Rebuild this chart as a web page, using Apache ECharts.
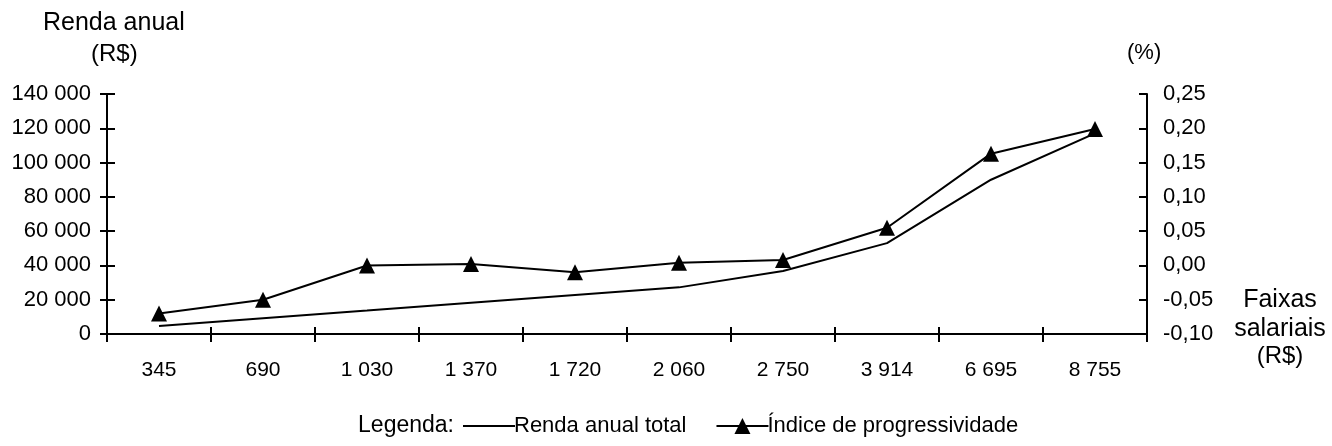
<!DOCTYPE html>
<html>
<head>
<meta charset="utf-8">
<script src="https://cdn.jsdelivr.net/npm/echarts@6/dist/echarts.min.js"></script>
<style>
  html, body { margin: 0; padding: 0; background: #fff; }
  #chart { width: 1332px; height: 446px; }
</style>
</head>
<body>
<div id="chart"></div>
<script>
// faixas salariais (R$)
const categories = ['345', '690', '1 030', '1 370', '1 720', '2 060', '2 750', '3 914', '6 695', '8 755'];
// renda anual total (R$) - eixo esquerdo
const rendaAnual = [4700, 9200, 13700, 18300, 22700, 27200, 36800, 53000, 90000, 117000];
// índice de progressividade (%) - eixo direito
const indice = [-0.07, -0.05, 0.0, 0.002, -0.01, 0.004, 0.008, 0.055, 0.163, 0.199];

const FONT = '"Liberation Sans", Arial, sans-serif';
const BLACK = '#000';

const fmtMil = v => String(v).replace(/\B(?=(\d{3})+(?!\d))/g, ' ');
const fmtPct = v => v.toFixed(2).replace('.', ',');

const chart = echarts.init(document.getElementById('chart'));

const option = {
    animation: false,
    backgroundColor: '#fff',
    grid: { left: 107, right: 185, top: 94, bottom: 112 },
    xAxis: [
        {
            type: 'category', data: categories, boundaryGap: true,
            axisLine: { onZero: false, lineStyle: { color: BLACK, width: 2 } },
            axisTick: { show: true, inside: false, length: 8, lineStyle: { color: BLACK, width: 2 } },
            axisLabel: { color: BLACK, fontSize: 21, fontFamily: FONT, margin: 26, interval: 0 }
        },
        {
            // só para os tiques que cruzam o eixo
            type: 'category', data: categories, position: 'bottom', boundaryGap: true,
            axisLine: { show: false, onZero: false },
            axisTick: { show: true, inside: true, length: 7, lineStyle: { color: BLACK, width: 2 } },
            axisLabel: { show: false }
        }
    ],
    yAxis: [
        {
            type: 'value', min: 0, max: 140000, interval: 20000, position: 'left',
            axisLine: { show: true, lineStyle: { color: BLACK, width: 2 } },
            axisTick: { show: true, inside: false, length: 7, lineStyle: { color: BLACK, width: 2 } },
            axisLabel: { color: BLACK, fontSize: 22, fontFamily: FONT, margin: 16, formatter: fmtMil },
            splitLine: { show: false }
        },
        {
            type: 'value', min: -0.10, max: 0.25, interval: 0.05, position: 'right',
            axisLine: { show: true, lineStyle: { color: BLACK, width: 2 } },
            axisTick: { show: true, inside: true, length: 8, lineStyle: { color: BLACK, width: 2 } },
            axisLabel: { color: BLACK, fontSize: 22, fontFamily: FONT, margin: 16, formatter: fmtPct },
            splitLine: { show: false }
        },
        {
            type: 'value', min: 0, max: 140000, interval: 20000, position: 'left',
            axisLine: { show: false },
            axisTick: { show: true, inside: true, length: 8, lineStyle: { color: BLACK, width: 2 } },
            axisLabel: { show: false },
            splitLine: { show: false }
        }
    ],
    legend: {
        left: 458, top: 410,
        itemWidth: 52, itemHeight: 20, itemGap: 29,
        textStyle: { color: BLACK, fontSize: 22, fontFamily: FONT, padding: [0, 0, 0, -6] },
        data: [
            { name: 'Renda anual total', icon: 'path://M0,0L52,0L52,2L0,2Z' },
            { name: 'Índice de progressividade' }
        ]
    },
    graphic: [
        { type: 'text', left: 43, top: 11, style: { text: 'Renda anual', font: '25px ' + FONT, fill: BLACK } },
        { type: 'text', left: 91, top: 42, style: { text: '(R$)', font: '24px ' + FONT, fill: BLACK } },
        { type: 'text', left: 1127, top: 42, style: { text: '(%)', font: '22px ' + FONT, fill: BLACK } },
        { type: 'text', x: 1280, y: 288, style: { text: 'Faixas', font: '25px ' + FONT, fill: BLACK, align: 'center', verticalAlign: 'top' } },
        { type: 'text', x: 1280, y: 317, style: { text: 'salariais', font: '25px ' + FONT, fill: BLACK, align: 'center', verticalAlign: 'top' } },
        { type: 'text', x: 1280, y: 344, style: { text: '(R$)', font: '24px ' + FONT, fill: BLACK, align: 'center', verticalAlign: 'top' } },
        { type: 'text', x: 454, y: 414, style: { text: 'Legenda:', font: '23px ' + FONT, fill: BLACK, align: 'right', verticalAlign: 'top' } }
    ],
    series: [
        {
            name: 'Renda anual total', type: 'line', yAxisIndex: 0,
            data: rendaAnual, symbol: 'none',
            lineStyle: { color: BLACK, width: 2 }, itemStyle: { color: BLACK }
        },
        {
            name: 'Índice de progressividade', type: 'line', yAxisIndex: 1,
            data: indice, symbol: 'triangle', symbolSize: 16,
            lineStyle: { color: BLACK, width: 2 }, itemStyle: { color: BLACK }
        }
    ]
};

chart.setOption(option);
</script>
</body>
</html>
